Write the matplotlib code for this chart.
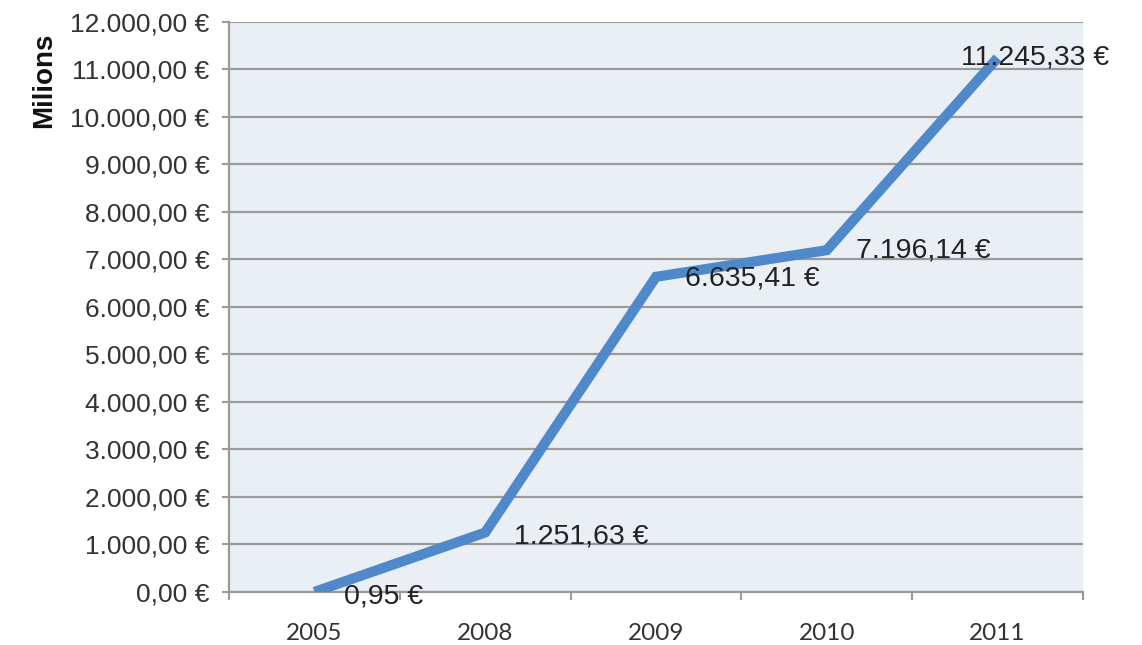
import numpy as np
import matplotlib
matplotlib.use("Agg")
import matplotlib.pyplot as plt
from matplotlib.ticker import FixedLocator, FuncFormatter

# data (millions of euro)
years = ["2005", "2008", "2009", "2010", "2011"]
values = [0.95, 1251.63, 6635.41, 7196.14, 11245.33]
labels = ["0,95 €", "1.251,63 €", "6.635,41 €", "7.196,14 €", "11.245,33 €"]

# label offsets in points (x, y)
offsets = [(21, -3), (21, -3), (21, -1), (21, 0), (-26, 0)]

def euro_fmt(v, pos=None):
    s = f"{v:,.2f}"
    s = s.replace(",", "X").replace(".", ",").replace("X", ".")
    return s + " €"

fig = plt.figure(figsize=(11.42, 6.45), dpi=100)
ax = fig.add_axes([0.2005, 0.0822, 0.7478, 0.8837])
ax.set_facecolor("#eaeef5")

x = np.arange(len(years))
ax.plot(x, values, color="#5089c9", lw=7.3, solid_capstyle="butt",
        solid_joinstyle="miter", zorder=3)

for xi, v, lab, off in zip(x, values, labels, offsets):
    ax.annotate(lab, (xi, v), xytext=off, textcoords="offset points",
                ha="left", va="center", fontsize=20.5, color="#222222",
                family="Liberation Sans", zorder=4)

ax.set_xlim(-0.5, len(years) - 0.5)
ax.set_ylim(0, 12000)
ax.yaxis.set_major_locator(FixedLocator(np.arange(0, 12001, 1000)))
ax.yaxis.set_major_formatter(FuncFormatter(euro_fmt))
ax.grid(axis="y", color="#9a9a9a", lw=1.6, zorder=1)
ax.set_axisbelow(True)

ax.set_xticks(x)
ax.set_xticklabels(years, family="Lato", fontsize=17.5, color="#333333")
ax.set_xticks(np.arange(-0.5, len(years)), minor=True)
ax.tick_params(axis="x", which="major", length=0, pad=22)
ax.tick_params(axis="x", which="minor", length=6, width=1.5, color="#9a9a9a")
ax.tick_params(axis="y", length=5, width=1.5, color="#9a9a9a", pad=9,
               labelsize=19, labelcolor="#333333")
for t in ax.get_yticklabels():
    t.set_family("Liberation Sans")

for s in ["top", "right"]:
    ax.spines[s].set_visible(False)
for s in ["left", "bottom"]:
    ax.spines[s].set_color("#9a9a9a")
    ax.spines[s].set_linewidth(1.6)

fig.text(0.0385, 0.876, "Milions", rotation=90, ha="center", va="center",
         fontsize=20, fontweight="bold", family="Liberation Sans",
         color="#111111")

fig.savefig("out.png", dpi=100)
